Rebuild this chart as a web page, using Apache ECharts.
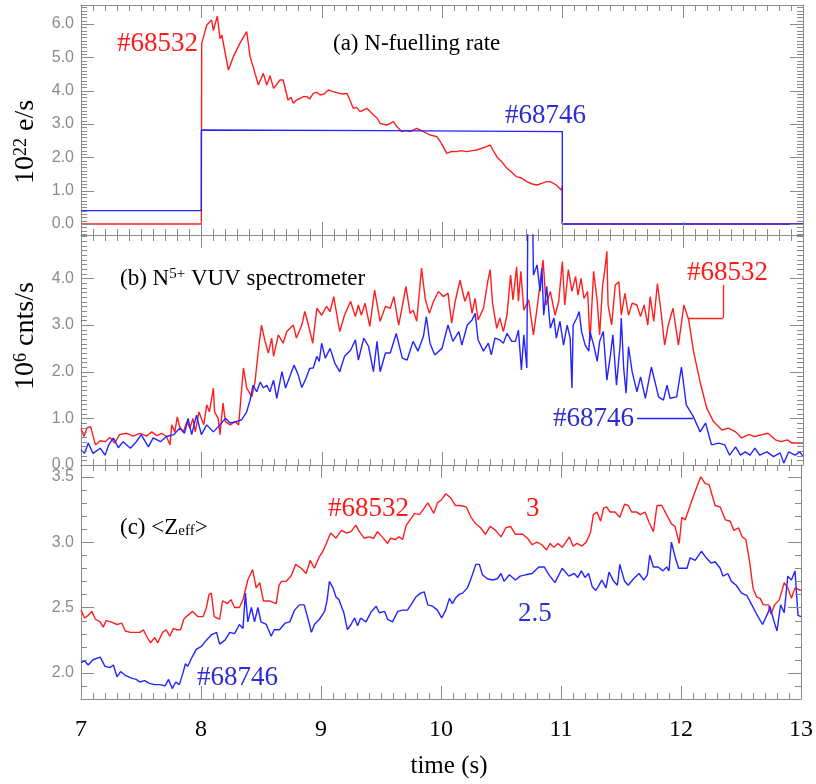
<!DOCTYPE html>
<html><head><meta charset="utf-8">
<script src="https://cdn.jsdelivr.net/npm/echarts@6/dist/echarts.min.js"></script>
<style>html,body{margin:0;padding:0;background:#fff}#c{width:816px;height:784px}</style>
</head><body><div id="c"></div>
<script>
// ---------- data ----------
const yTicksA = [0, 1, 2, 3, 4, 5, 6];
const yTicksB = [0, 1, 2, 3, 4];
const yTicksC = [2.0, 2.5, 3.0, 3.5];

// (a) N-fuelling rate, 10^22 e/s
const fuelRed = [[7,0],[8.0,0],[8.003,5.42],[8.045,5.97],[8.086,6.12],[8.10,5.80],[8.133,6.24],[8.155,5.56],[8.17,5.67],[8.225,4.62],[8.266,5.02],[8.32,5.42],[8.377,5.77],[8.405,5.02],[8.43,4.72],[8.474,4.17],[8.515,4.52],[8.544,4.17],[8.571,4.45],[8.6,4.07],[8.654,4.32],[8.68,4.32],[8.72,3.72],[8.745,3.80],[8.765,3.62],[8.79,3.72],[8.82,3.77],[8.85,3.82],[8.876,3.82],[8.90,3.75],[8.93,3.92],[8.96,3.95],[8.987,3.87],[9.02,3.90],[9.056,4.02],[9.09,3.98],[9.125,3.94],[9.17,3.90],[9.21,3.92],[9.263,3.47],[9.29,3.50],[9.32,3.37],[9.375,3.47],[9.40,3.38],[9.43,3.27],[9.46,3.18],[9.486,3.02],[9.54,2.97],[9.57,3.02],[9.596,3.07],[9.63,2.90],[9.666,2.77],[9.70,2.80],[9.735,2.77],[9.79,2.87],[9.846,2.77],[9.9,2.67],[9.957,2.62],[9.99,2.45],[10.04,2.12],[10.08,2.18],[10.12,2.17],[10.16,2.20],[10.206,2.17],[10.25,2.20],[10.29,2.22],[10.37,2.32],[10.40,2.37],[10.455,2.02],[10.50,1.85],[10.54,1.67],[10.58,1.55],[10.62,1.42],[10.66,1.38],[10.705,1.27],[10.75,1.20],[10.79,1.17],[10.83,1.22],[10.87,1.27],[10.9,1.27],[10.95,1.17],[10.99,1.02],[11.0,1.12],[11.0,0],[13,0]];
const fuelBlue = [[7,0.40],[8.0,0.40],[8.0,2.82],[9.5,2.80],[11.0,2.77],[11.0,0],[13,0]];

// (b) N5+ VUV spectrometer, 10^6 cnts/s
const vuvRed = [[7.0,0.79],[7.025,0.61],[7.05,0.80],[7.08,0.82],[7.12,0.43],[7.16,0.52],[7.2,0.50],[7.24,0.59],[7.28,0.47],[7.32,0.65],[7.38,0.68],[7.435,0.62],[7.49,0.68],[7.546,0.62],[7.588,0.71],[7.63,0.63],[7.67,0.68],[7.71,0.61],[7.74,0.43],[7.754,0.86],[7.78,0.71],[7.80,1.03],[7.82,0.82],[7.85,0.71],[7.88,0.93],[7.906,0.79],[7.93,1.00],[7.95,0.71],[7.98,1.14],[8.02,0.86],[8.045,1.29],[8.067,1.14],[8.10,1.65],[8.11,1.14],[8.14,1.00],[8.155,0.65],[8.18,1.33],[8.2,0.93],[8.24,0.86],[8.28,0.93],[8.31,0.86],[8.35,2.08],[8.377,1.65],[8.42,1.46],[8.446,1.78],[8.474,2.46],[8.50,3.00],[8.53,2.65],[8.557,2.40],[8.585,2.72],[8.60,2.33],[8.64,2.79],[8.68,2.61],[8.71,2.86],[8.765,3.00],[8.79,2.72],[8.835,3.00],[8.86,3.29],[8.89,3.00],[8.926,2.61],[8.96,3.36],[9.0,3.21],[9.04,3.40],[9.07,3.29],[9.10,3.61],[9.15,2.86],[9.19,3.21],[9.24,3.51],[9.28,3.18],[9.305,3.43],[9.33,3.21],[9.36,3.47],[9.40,2.97],[9.44,3.75],[9.486,3.08],[9.53,3.40],[9.57,3.36],[9.60,3.61],[9.64,3.00],[9.67,3.40],[9.70,3.83],[9.735,3.25],[9.76,3.32],[9.79,3.08],[9.83,4.22],[9.86,3.57],[9.895,3.25],[9.93,3.51],[9.97,3.72],[10.01,3.61],[10.05,3.68],[10.08,3.04],[10.11,3.51],[10.15,3.96],[10.19,3.51],[10.22,3.72],[10.25,3.25],[10.275,3.57],[10.30,3.11],[10.345,3.36],[10.38,3.93],[10.40,4.19],[10.42,3.47],[10.455,2.93],[10.48,3.15],[10.51,2.86],[10.54,3.21],[10.57,4.07],[10.59,3.54],[10.62,4.25],[10.635,3.51],[10.655,4.15],[10.68,3.32],[10.72,3.54],[10.76,2.79],[10.79,3.36],[10.82,4.00],[10.84,4.40],[10.865,3.43],[10.90,3.72],[10.94,3.21],[10.97,3.51],[11.0,4.36],[11.02,3.43],[11.05,4.19],[11.08,3.72],[11.11,4.04],[11.13,3.64],[11.155,4.00],[11.18,3.57],[11.21,3.72],[11.23,2.65],[11.26,4.15],[11.29,3.51],[11.31,2.79],[11.335,3.86],[11.355,4.22],[11.37,4.58],[11.38,3.43],[11.41,3.00],[11.44,3.86],[11.47,3.93],[11.49,3.21],[11.52,3.68],[11.55,3.21],[11.58,3.47],[11.62,3.43],[11.65,3.18],[11.68,3.43],[11.71,3.00],[11.73,3.61],[11.76,3.08],[11.79,3.89],[11.82,3.29],[11.85,2.57],[11.88,3.00],[11.92,3.36],[11.965,2.57],[12.01,3.43],[12.05,3.11],[12.09,2.44],[12.145,1.78],[12.2,1.22],[12.256,0.93],[12.326,0.75],[12.38,0.79],[12.44,0.71],[12.49,0.58],[12.55,0.65],[12.60,0.61],[12.66,0.65],[12.71,0.68],[12.77,0.54],[12.82,0.50],[12.87,0.54],[12.91,0.47],[12.99,0.47],[13.0,0.47]];
const vuvBlue = [[7.0,0.32],[7.03,0.25],[7.06,0.47],[7.1,0.25],[7.16,0.36],[7.2,0.21],[7.23,0.43],[7.27,0.58],[7.31,0.37],[7.35,0.50],[7.41,0.36],[7.46,0.50],[7.5,0.65],[7.56,0.39],[7.6,0.58],[7.66,0.50],[7.71,0.61],[7.77,0.65],[7.82,0.79],[7.86,0.68],[7.89,1.00],[7.92,0.65],[7.96,1.07],[8.0,0.65],[8.045,0.86],[8.1,0.71],[8.155,0.86],[8.2,1.00],[8.24,0.90],[8.29,0.93],[8.336,0.97],[8.377,1.14],[8.405,1.39],[8.43,1.71],[8.46,1.57],[8.49,1.78],[8.515,1.65],[8.544,1.71],[8.57,1.57],[8.60,1.82],[8.627,1.43],[8.67,2.00],[8.70,1.65],[8.74,1.93],[8.77,2.14],[8.80,1.97],[8.835,1.66],[8.87,1.86],[8.90,2.07],[8.93,2.08],[8.96,2.33],[8.98,2.22],[9.0,2.61],[9.03,2.29],[9.07,2.50],[9.11,2.18],[9.15,2.00],[9.19,2.33],[9.24,2.46],[9.28,2.68],[9.305,2.25],[9.35,2.72],[9.39,2.54],[9.43,2.00],[9.46,2.65],[9.486,2.00],[9.53,2.40],[9.57,2.40],[9.62,2.82],[9.67,2.29],[9.71,2.25],[9.76,2.65],[9.80,2.44],[9.846,2.76],[9.87,3.18],[9.90,2.61],[9.94,2.36],[10.0,2.50],[10.05,3.00],[10.09,2.65],[10.14,2.86],[10.165,2.57],[10.21,3.00],[10.25,3.11],[10.275,3.25],[10.30,2.68],[10.345,2.44],[10.385,2.61],[10.41,2.36],[10.44,2.72],[10.48,2.68],[10.51,2.61],[10.54,2.82],[10.58,2.65],[10.61,2.65],[10.635,2.89],[10.66,2.04],[10.68,2.79],[10.705,2.08],[10.715,6.0],[10.75,6.0],[10.76,4.07],[10.79,4.29],[10.815,3.72],[10.83,4.22],[10.845,3.21],[10.87,3.83],[10.90,2.93],[10.93,3.15],[10.95,2.72],[10.98,3.08],[11.01,2.57],[11.04,3.00],[11.065,2.72],[11.08,1.65],[11.09,3.00],[11.12,3.15],[11.14,3.29],[11.16,2.86],[11.19,2.57],[11.22,2.44],[11.23,2.86],[11.26,2.57],[11.29,2.22],[11.31,2.65],[11.34,2.86],[11.37,1.82],[11.40,2.36],[11.42,2.79],[11.45,1.71],[11.48,2.57],[11.49,3.15],[11.51,2.07],[11.53,1.54],[11.55,2.54],[11.58,2.00],[11.62,1.57],[11.65,1.89],[11.69,1.43],[11.74,2.10],[11.80,1.46],[11.84,1.39],[11.87,1.71],[11.895,1.43],[11.95,1.46],[11.99,2.10],[12.03,1.29],[12.09,1.03],[12.145,0.71],[12.19,0.90],[12.24,0.43],[12.30,0.47],[12.35,0.43],[12.39,0.21],[12.44,0.39],[12.48,0.21],[12.52,0.28],[12.56,0.21],[12.60,0.36],[12.64,0.21],[12.70,0.28],[12.755,0.18],[12.81,0.26],[12.84,0.04],[12.88,0.28],[12.935,0.21],[12.975,0.28],[13.0,0.18]];

// (c) <Zeff>
const zeffRed = [[7.0,2.48],[7.03,2.42],[7.06,2.44],[7.09,2.47],[7.12,2.41],[7.16,2.39],[7.185,2.35],[7.21,2.40],[7.25,2.39],[7.30,2.37],[7.34,2.38],[7.37,2.32],[7.41,2.31],[7.45,2.31],[7.49,2.31],[7.52,2.33],[7.546,2.28],[7.58,2.23],[7.615,2.27],[7.64,2.23],[7.68,2.31],[7.71,2.33],[7.74,2.28],[7.77,2.34],[7.795,2.33],[7.83,2.33],[7.856,2.41],[7.89,2.44],[7.93,2.47],[7.975,2.43],[8.017,2.43],[8.045,2.50],[8.067,2.60],[8.086,2.61],[8.11,2.43],[8.155,2.41],[8.18,2.55],[8.22,2.53],[8.25,2.56],[8.28,2.50],[8.32,2.50],[8.35,2.56],[8.39,2.71],[8.43,2.79],[8.46,2.65],[8.49,2.69],[8.52,2.55],[8.57,2.55],[8.627,2.53],[8.65,2.67],[8.67,2.70],[8.71,2.70],[8.75,2.74],[8.79,2.83],[8.835,2.80],[8.876,2.76],[8.91,2.86],[8.945,2.80],[8.987,2.89],[9.01,2.92],[9.04,2.98],[9.08,3.07],[9.125,3.03],[9.17,3.09],[9.21,3.07],[9.25,3.08],[9.29,3.13],[9.32,3.08],[9.36,3.03],[9.40,3.04],[9.44,3.03],[9.47,3.08],[9.51,3.04],[9.555,2.99],[9.58,3.03],[9.62,3.02],[9.65,3.04],[9.68,3.02],[9.71,3.13],[9.735,3.16],[9.78,3.22],[9.82,3.21],[9.86,3.26],[9.89,3.30],[9.91,3.27],[9.94,3.22],[9.97,3.30],[10.0,3.32],[10.04,3.37],[10.08,3.34],[10.12,3.28],[10.165,3.28],[10.21,3.27],[10.25,3.19],[10.29,3.14],[10.33,3.11],[10.37,3.06],[10.41,3.12],[10.455,3.09],[10.50,3.04],[10.54,3.11],[10.58,3.12],[10.62,3.06],[10.68,3.06],[10.72,3.03],[10.76,2.98],[10.80,3.00],[10.84,2.98],[10.88,2.94],[10.91,2.99],[10.94,2.96],[10.975,2.99],[11.01,2.96],[11.04,3.00],[11.07,3.04],[11.10,2.97],[11.134,2.99],[11.175,2.97],[11.21,3.00],[11.245,3.07],[11.27,3.21],[11.30,3.23],[11.33,3.16],[11.355,3.26],[11.38,3.27],[11.41,3.23],[11.45,3.23],[11.49,3.19],[11.53,3.29],[11.56,3.28],[11.59,3.23],[11.63,3.23],[11.66,3.21],[11.70,3.23],[11.73,3.16],[11.77,3.08],[11.80,3.28],[11.84,3.28],[11.88,3.21],[11.92,3.14],[11.95,3.12],[11.985,2.99],[12.007,3.19],[12.035,3.17],[12.076,3.28],[12.118,3.39],[12.165,3.50],[12.20,3.45],[12.234,3.44],[12.284,3.28],[12.326,3.27],[12.37,3.17],[12.41,3.16],[12.44,3.09],[12.48,3.11],[12.51,3.04],[12.54,3.02],[12.57,2.86],[12.60,2.65],[12.63,2.58],[12.66,2.57],[12.686,2.52],[12.73,2.52],[12.75,2.45],[12.78,2.52],[12.82,2.56],[12.86,2.69],[12.89,2.65],[12.92,2.57],[12.95,2.65],[13.0,2.63]];
const zeffBlue = [[7.0,2.08],[7.03,2.09],[7.06,2.06],[7.1,2.10],[7.16,2.12],[7.2,2.05],[7.24,2.04],[7.27,2.06],[7.30,1.97],[7.33,2.01],[7.37,1.98],[7.42,1.96],[7.46,1.95],[7.49,1.93],[7.53,1.94],[7.57,1.92],[7.615,1.91],[7.66,1.91],[7.70,1.90],[7.73,1.95],[7.76,1.88],[7.79,1.93],[7.82,1.91],[7.85,2.00],[7.87,2.07],[7.89,2.05],[7.92,2.11],[7.96,2.18],[8.0,2.20],[8.045,2.25],[8.086,2.29],[8.13,2.31],[8.155,2.22],[8.2,2.25],[8.24,2.31],[8.28,2.30],[8.32,2.37],[8.35,2.34],[8.37,2.61],[8.39,2.39],[8.42,2.50],[8.446,2.39],[8.474,2.50],[8.50,2.39],[8.544,2.37],[8.585,2.28],[8.61,2.33],[8.654,2.33],[8.70,2.38],[8.74,2.39],[8.78,2.48],[8.82,2.52],[8.86,2.52],[8.89,2.42],[8.92,2.31],[8.945,2.37],[8.987,2.41],[9.03,2.47],[9.05,2.55],[9.07,2.70],[9.10,2.65],[9.125,2.58],[9.15,2.56],[9.19,2.46],[9.22,2.33],[9.25,2.37],[9.28,2.42],[9.305,2.36],[9.33,2.42],[9.375,2.39],[9.42,2.47],[9.46,2.51],[9.486,2.46],[9.53,2.47],[9.555,2.41],[9.596,2.39],[9.64,2.47],[9.68,2.48],[9.72,2.48],[9.75,2.52],[9.79,2.58],[9.83,2.61],[9.86,2.62],[9.89,2.52],[9.93,2.51],[9.97,2.48],[10.006,2.42],[10.04,2.48],[10.07,2.57],[10.095,2.53],[10.12,2.57],[10.15,2.60],[10.18,2.61],[10.22,2.65],[10.25,2.72],[10.29,2.83],[10.32,2.83],[10.345,2.75],[10.385,2.72],[10.43,2.71],[10.47,2.72],[10.50,2.76],[10.525,2.70],[10.57,2.75],[10.62,2.71],[10.66,2.74],[10.705,2.75],[10.76,2.76],[10.815,2.81],[10.86,2.81],[10.90,2.75],[10.95,2.69],[11.01,2.80],[11.065,2.74],[11.11,2.76],[11.14,2.73],[11.17,2.78],[11.20,2.73],[11.23,2.76],[11.26,2.66],[11.29,2.63],[11.31,2.66],[11.34,2.71],[11.375,2.65],[11.40,2.77],[11.44,2.70],[11.47,2.67],[11.49,2.83],[11.53,2.70],[11.56,2.67],[11.605,2.72],[11.65,2.76],[11.69,2.71],[11.72,2.75],[11.74,2.90],[11.77,2.81],[11.81,2.81],[11.85,2.78],[11.88,2.81],[11.90,2.78],[11.92,3.00],[11.95,2.89],[11.98,2.80],[12.02,2.80],[12.05,2.80],[12.076,2.88],[12.118,2.86],[12.17,2.93],[12.21,2.88],[12.25,2.84],[12.284,2.85],[12.326,2.80],[12.35,2.74],[12.39,2.76],[12.42,2.70],[12.46,2.67],[12.505,2.61],[12.55,2.59],[12.59,2.52],[12.63,2.45],[12.68,2.37],[12.73,2.47],[12.74,2.51],[12.77,2.41],[12.80,2.32],[12.83,2.52],[12.86,2.46],[12.89,2.74],[12.92,2.71],[12.95,2.78],[12.975,2.44],[13.0,2.43]];

// leader lines of panel (b) labels, in data coordinates [time, value]
const leaderRed = [[12.044, 3.15], [12.335, 3.15], [12.335, 3.86]];
const leaderBlue = [[11.621, 1.01], [12.086, 1.01]];

// ---------- styling ----------
const SERIF = '"Liberation Serif","Times New Roman","DejaVu Serif",serif';
const SANS = '"Liberation Sans",Arial,Helvetica,sans-serif';
const RED = '#ff1e1e', BLUE = '#2424ff';
const RED_T = '#ff1a1a', BLUE_T = '#2d2dd2';
const FRAME = '#8a8a8a';
const LABEL_GRAY = '#8c8c8c';
const MAJOR_LEN = 13, MINOR_LEN = 6;

const panels = [
  {top: 5,   height: 230, min: -0.33, max: 6.57, major: yTicksA, red: fuelRed, blue: fuelBlue,
   name: '10{s|22} e/s', namePad: [0, 44, 0, 0]},
  {top: 235, height: 230, min: 0,     max: 4.93, major: yTicksB, red: vuvRed,  blue: vuvBlue,
   name: '10{s|6} cnts/s', namePad: [0, 0, 0, 28]},
  {top: 465, height: 234, min: 1.8,   max: 3.59, major: yTicksC, red: zeffRed, blue: zeffBlue,
   name: '', namePad: 0}
];

function minorValues(min, max) {
  const out = [];
  for (let k = Math.ceil(min * 10 - 1e-9); k <= Math.floor(max * 10 + 1e-9); k++) out.push(k / 10);
  return out;
}
function segs(pts) {
  const out = [];
  for (let k = 0; k < pts.length - 1; k++) out.push([{coord: pts[k]}, {coord: pts[k + 1]}]);
  return out;
}
// tick list for a panel: [value, side(0 bottom,1 top,2 left,3 right), isMajor]
function tickList(p) {
  const d = [];
  for (let k = 70; k <= 130; k++) {
    const maj = k % 10 === 0 ? 1 : 0;
    d.push([k / 10, 0, maj], [k / 10, 1, maj]);
  }
  minorValues(p.min, p.max).forEach(v => {
    const maj = p.major.some(m => Math.abs(m - v) < 1e-6) ? 1 : 0;
    d.push([v, 2, maj], [v, 3, maj]);
  });
  return d;
}
function renderTick(params, api) {
  const cs = params.coordSys;
  const v = api.value(0), side = api.value(1), len = api.value(2) ? MAJOR_LEN : MINOR_LEN;
  let shape;
  if (side === 0 || side === 1) {
    const x = Math.round(api.coord([v, 0])[0]) + 0.5;
    const yEdge = side === 0 ? cs.y + cs.height : cs.y;
    const dir = side === 0 ? -1 : 1;
    shape = {x1: x, y1: yEdge, x2: x, y2: yEdge + dir * len};
  } else {
    const y = Math.round(api.coord([7, v])[1]) + 0.5;
    const xEdge = side === 2 ? cs.x : cs.x + cs.width;
    const dir = side === 2 ? 1 : -1;
    shape = {x1: xEdge, y1: y, x2: xEdge + dir * len, y2: y};
  }
  return {type: 'line', shape: shape, silent: true, style: {stroke: FRAME, lineWidth: 1}};
}

const grids = [], xAxes = [], yAxes = [], series = [];
panels.forEach((p, i) => {
  grids.push({left: 81, width: 722, top: p.top, height: p.height});
  const isLast = i === panels.length - 1;
  const xIdx = xAxes.length;
  ['bottom', 'top'].forEach(pos => {
    const ax = {
      gridIndex: i, type: 'value', min: 7, max: 13, interval: 1,
      position: pos,
      axisLine: {show: true, onZero: false, lineStyle: {color: FRAME, width: 1}},
      axisTick: {show: false},
      splitLine: {show: false},
      axisLabel: {show: isLast && pos === 'bottom', margin: 19, color: '#000',
                  fontFamily: SERIF, fontSize: 24}
    };
    if (isLast && pos === 'bottom') {
      ax.name = 'time (s)';
      ax.nameLocation = 'middle';
      ax.nameGap = 55;
      ax.nameMoveOverlap = false;
      ax.nameTextStyle = {fontFamily: SERIF, fontSize: 25, color: '#000', padding: [0, 0, 0, 16]};
    }
    xAxes.push(ax);
  });
  const yIdx = yAxes.length;
  ['left', 'right'].forEach(pos => {
    const ay = {
      gridIndex: i, type: 'value', min: p.min, max: p.max, position: pos,
      axisLine: {show: true, onZero: false, lineStyle: {color: FRAME, width: 1}},
      axisTick: {show: false},
      splitLine: {show: false},
      axisLabel: {show: pos === 'left', customValues: p.major, margin: 7, color: LABEL_GRAY,
                  fontFamily: SANS, fontSize: 16, formatter: v => Number(v).toFixed(1)}
    };
    if (pos === 'left' && p.name) {
      ay.name = p.name;
      ay.nameLocation = 'middle';
      ay.nameRotate = 90;
      ay.nameGap = 41;
      ay.nameMoveOverlap = false;
      ay.nameTextStyle = {fontFamily: SERIF, fontSize: 28, color: '#000', padding: p.namePad,
        rich: {s: {fontFamily: SERIF, fontSize: 18, color: '#000', verticalAlign: 'top'}}};
    }
    yAxes.push(ay);
  });

  const redS = {type: 'line', xAxisIndex: xIdx, yAxisIndex: yIdx, data: p.red, showSymbol: false,
                lineStyle: {color: RED, width: 1.4}};
  const blueS = {type: 'line', xAxisIndex: xIdx, yAxisIndex: yIdx, data: p.blue, showSymbol: false,
                 lineStyle: {color: BLUE, width: 1.4}};
  if (i === 1) {
    redS.markLine = {silent: true, symbol: ['none', 'none'], label: {show: false},
                     lineStyle: {color: RED, width: 1.3, type: 'solid'}, data: segs(leaderRed)};
    blueS.markLine = {silent: true, symbol: ['none', 'none'], label: {show: false},
                      lineStyle: {color: BLUE, width: 1.3, type: 'solid'}, data: segs(leaderBlue)};
  }
  series.push(redS, blueS);
  // frame tick marks, positioned through the axes' own scales
  series.push({type: 'custom', xAxisIndex: xIdx, yAxisIndex: yIdx, data: tickList(p),
               renderItem: renderTick, silent: true, z: 10, clip: false, animation: false,
               encode: {x: 0, y: 1}, tooltip: {show: false}});
});

// annotation texts: left edge x, vertical centre y
function lab(x, yc, text, size, color, rich) {
  const ts = {fontFamily: SERIF, fontSize: size, fontWeight: 'normal', color: color, lineHeight: size};
  if (rich) ts.rich = rich;
  return {text: text, left: x, top: Math.round(yc - size / 2), padding: 0, textStyle: ts};
}
const supRich = {s: {fontFamily: SERIF, fontSize: 15, color: '#000', verticalAlign: 'top', lineHeight: 23}};
const subRich = {b: {fontFamily: SERIF, fontSize: 15, color: '#000', verticalAlign: 'bottom', lineHeight: 23}};
const titles = [
  lab(117, 43, '#68532', 27, RED_T),
  lab(333, 43, '(a) N-fuelling rate', 23, '#000'),
  lab(505, 115, '#68746', 27, BLUE_T),
  lab(120, 278, '(b) N{s|5+} VUV spectrometer', 23, '#000', supRich),
  lab(687, 272, '#68532', 27, RED_T),
  lab(553, 418, '#68746', 27, BLUE_T),
  lab(120, 527, '(c) <Z{b|eff}>', 23, '#000', subRich),
  lab(328, 508, '#68532', 27, RED_T),
  lab(526, 508, '3', 27, RED_T),
  lab(518, 613, '2.5', 27, BLUE_T),
  lab(197, 677, '#68746', 27, BLUE_T)
];

const chart = echarts.init(document.getElementById('c'));
chart.setOption({
  animation: false,
  title: titles,
  grid: grids,
  xAxis: xAxes,
  yAxis: yAxes,
  series: series
});
</script>
</body></html>
